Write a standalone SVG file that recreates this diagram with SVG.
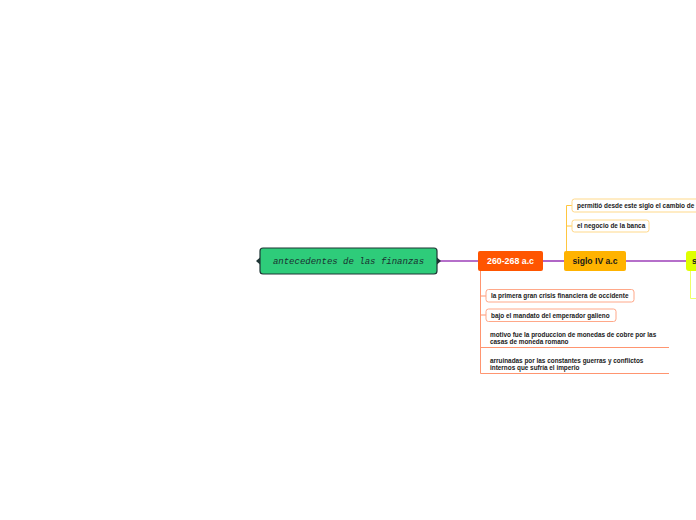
<svg xmlns="http://www.w3.org/2000/svg" width="696" height="520" viewBox="0 0 696 520">
<style>
.main{stroke:#9c3fb8;stroke-width:1.6;fill:none}
.oc{stroke:#ff9570;stroke-width:1;fill:none}
.ac{stroke:#ffc640;stroke-width:1;fill:none}
.yc{stroke:#eeff66;stroke-width:1;fill:none}
.t{font-family:"Liberation Sans",Arial,sans-serif;font-weight:bold;fill:#1a1a1a;font-size:6.4px}
.obox{fill:#ffffff;stroke:#ffa889;stroke-width:1}
.abox{fill:#ffffff;stroke:#ffd98a;stroke-width:1}
</style>
<rect width="696" height="520" fill="#ffffff"/>
<g id="connectors">
<line class="main" x1="437" y1="261" x2="478" y2="261"/>
<line class="main" x1="543" y1="261" x2="565" y2="261"/>
<line class="main" x1="626" y1="261" x2="687" y2="261"/>
<path class="oc" d="M480.5 271 V373.5 M480.5 296 H486 M480.5 315 H486 M480.5 347.5 H669 M480.5 373.5 H669"/>
<path class="ac" d="M566.5 251 V205.5 H572 M566.5 226 H572"/>
<path class="yc" d="M690.5 271 V298.5 H696"/>
</g>
<g id="root">
<path d="M256 261 L260 257.5 V264.5 Z" fill="#1f3535"/>
<path d="M441 261 L437 257.5 V264.5 Z" fill="#1f3535"/>
<rect x="260" y="248" width="177" height="26" rx="3" fill="#2ecc7a" stroke="#1f3535" stroke-width="1.2"/>
<text x="348.5" y="263.8" text-anchor="middle" font-family="'Liberation Mono','Courier New',monospace" font-style="italic" font-size="9" fill="#1a3030">antecedentes de las finanzas</text>
</g>
<g id="n260">
<rect x="478" y="251" width="65" height="20" rx="2" fill="#ff5500"/>
<text x="510.5" y="264" text-anchor="middle" font-family="'Liberation Sans',Arial,sans-serif" font-weight="bold" font-size="8.8" fill="#ffffff">260-268 a.c</text>
</g>
<g id="nsiglo">
<rect x="564" y="251" width="62" height="20" rx="2" fill="#ffb300"/>
<text x="595" y="264" text-anchor="middle" font-family="'Liberation Sans',Arial,sans-serif" font-weight="bold" font-size="8.6" fill="#1a1a1a">siglo IV a.c</text>
</g>
<g id="nyellow">
<rect x="686" y="251" width="30" height="20" rx="3" fill="#dfff00"/>
<text x="692" y="264" font-family="'Liberation Sans',Arial,sans-serif" font-weight="bold" font-size="8.6" fill="#1a1a1a">s</text>
</g>
<g id="permitio">
<rect class="abox" x="572" y="199" width="140" height="13" rx="2.5"/>
<text class="t" x="577" y="207.8">permitió desde este siglo el cambio de</text>
</g>
<g id="negocio">
<rect class="abox" x="572" y="220" width="77" height="12" rx="2.5"/>
<text class="t" x="577" y="228.3">el negocio de la banca</text>
</g>
<g id="primera">
<rect class="obox" x="486" y="289.5" width="148" height="12.5" rx="2.5"/>
<text class="t" x="491" y="298">la primera gran crisis financiera de occidente</text>
</g>
<g id="bajo">
<rect class="obox" x="486" y="309" width="130" height="12.5" rx="2.5"/>
<text class="t" x="491" y="317.5">bajo el mandato del emperador galieno</text>
</g>
<g id="motivo">
<text class="t" x="490" y="337.3">motivo fue la produccion de monedas de cobre por las</text>
<text class="t" x="490" y="344.3">casas de moneda romano</text>
</g>
<g id="arruinadas">
<text class="t" x="490" y="363.3">arruinadas por las constantes guerras  y conflictos</text>
<text class="t" x="490" y="370.3">internos que sufría el imperio</text>
</g>
</svg>
